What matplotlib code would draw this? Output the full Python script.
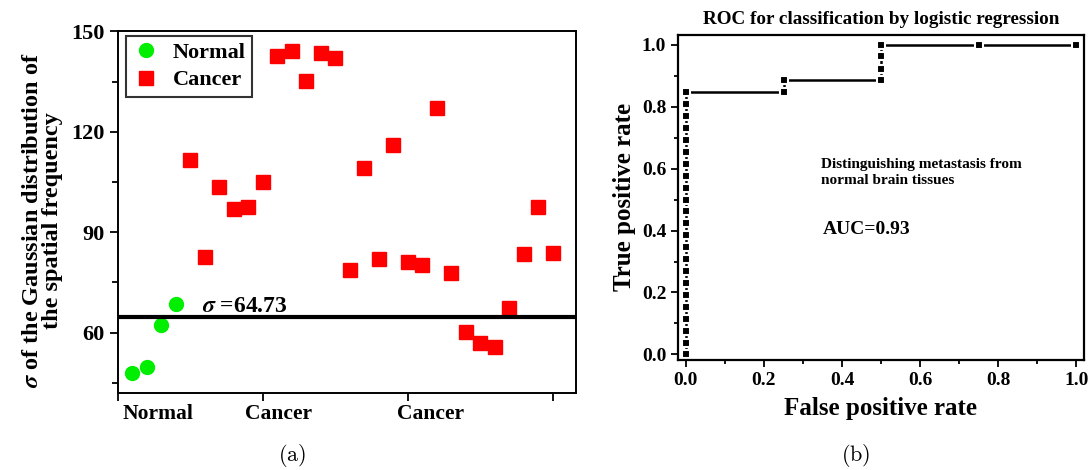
import matplotlib
matplotlib.use("Agg")
import matplotlib.pyplot as plt
import numpy as np

plt.rcParams['font.family'] = ['Liberation Serif', 'DejaVu Serif']
plt.rcParams['font.weight'] = 'bold'
plt.rcParams['axes.labelweight'] = 'bold'
plt.rcParams['mathtext.fontset'] = 'stix'

# ---- data, panel (a) ----
normal_sigma = [48.0, 49.7, 62.4, 68.7]
cancer_sigma = [111.5, 82.5, 103.6, 97.0, 97.6, 104.9, 142.7, 144.3, 135.1,
                143.5, 142.1, 78.6, 109.2, 82.1, 116.2, 81.0, 80.1, 127.1,
                77.9, 60.1, 56.8, 55.8, 67.4, 83.5, 97.6, 83.8]
threshold = 64.73
yticks_a = [60, 90, 120, 150]
xlabels_a = ['Normal', 'Cancer', 'Cancer']

# ---- data, panel (b) ----
fpr = [0.0] * 23 + [0.25, 0.25, 0.5, 0.5, 0.5, 0.5, 0.75, 1.0]
tpr = [0.0, 0.038, 0.077, 0.115, 0.154, 0.192, 0.231, 0.269, 0.308, 0.346,
       0.385, 0.423, 0.462, 0.500, 0.538, 0.577, 0.615, 0.654, 0.692, 0.731,
       0.769, 0.808, 0.846,
       0.846, 0.885, 0.885, 0.923, 0.962, 1.0, 1.0, 1.0]
auc = 0.93

fig = plt.figure(figsize=(10.91, 4.70), dpi=100)
ax1 = fig.add_axes([0.108, 0.164, 0.420, 0.769])
ax2 = fig.add_axes([0.6215, 0.234, 0.372, 0.692])

# panel (a)
xn = np.arange(1, len(normal_sigma) + 1)
xc = np.arange(len(normal_sigma) + 1, len(normal_sigma) + len(cancer_sigma) + 1)
ax1.plot(xn, normal_sigma, 'o', color='#00ee00', markersize=10, label='Normal')
ax1.plot(xc, cancer_sigma, 's', color='#ff0000', markersize=9.5, label='Cancer')
ax1.axhline(threshold, color='k', lw=3)
ax1.text(5.8, threshold + 1.4, r'$\sigma$ =64.73', fontsize=17, fontweight='bold')

ax1.set_xlim(0, 31.6)
ax1.set_ylim(42, 150)
ax1.set_yticks(yticks_a)
ax1.set_yticks([45, 75, 105, 135], minor=True)
ax1.set_xticks([0, 10, 20, 30])
ax1.set_xticklabels([])
ax1.set_xticks([2.8, 11.1, 21.6], minor=True)
ax1.set_xticklabels(xlabels_a, minor=True)
ax1.tick_params(axis='x', which='minor', length=0, pad=8, labelsize=15.5)
ax1.tick_params(axis='x', which='major', length=6, width=1.3)
ax1.tick_params(axis='y', which='major', length=6, width=1.3, labelsize=16)
ax1.tick_params(axis='y', which='minor', length=4, width=1.3)
for s in ax1.spines.values():
    s.set_linewidth(1.4)
ax1.set_ylabel(r'$\sigma$ of the Gaussian distribution of' + '\nthe spatial frequency',
               fontsize=17.5, linespacing=0.92)
ax1.yaxis.set_label_coords(-0.12, 0.478)
leg = ax1.legend(loc='upper left', fontsize=16, frameon=True, fancybox=False,
                 edgecolor='k', borderpad=0.3, handlelength=1.2, handletextpad=0.6,
                 labelspacing=0.3, borderaxespad=0,
                 bbox_to_anchor=(0.0175, 0.9875))
leg.get_frame().set_linewidth(1.5)

# panel (b)
ax2.plot(fpr, tpr, '-', color='k', lw=1.8, marker='s', markersize=6.4,
         markerfacecolor='k', markeredgecolor='white', markeredgewidth=1.5)
ax2.set_xlim(-0.02, 1.019)
ax2.set_ylim(-0.018, 1.032)
ax2.set_xticks(np.linspace(0, 1, 6))
ax2.set_xticks(np.linspace(0.1, 0.9, 5), minor=True)
ax2.set_yticks(np.linspace(0, 1, 6))
ax2.set_yticks(np.linspace(0.1, 0.9, 5), minor=True)
ax2.xaxis.set_major_formatter(matplotlib.ticker.FormatStrFormatter('%.1f'))
ax2.yaxis.set_major_formatter(matplotlib.ticker.FormatStrFormatter('%.1f'))
ax2.tick_params(which='major', length=5, width=1.3, labelsize=14)
ax2.tick_params(which='minor', length=3, width=1.3)
for s in ax2.spines.values():
    s.set_linewidth(1.6)
ax2.set_xlabel('False positive rate', fontsize=18, labelpad=6)
ax2.set_ylabel('True positive rate', fontsize=18)
ax2.set_title('ROC for classification by logistic regression', fontsize=13.8,
              fontweight='bold', pad=8)
ax2.text(0.347, 0.635, 'Distinguishing metastasis from\nnormal brain tissues',
         fontsize=11, fontweight='bold', va='top', linespacing=1.3)
ax2.text(0.351, 0.404, 'AUC=%.2f' % auc, fontsize=14, fontweight='bold', va='center')

fig.text(0.268, 0.02, r'$\mathrm{(a)}$', fontsize=16, math_fontfamily='cm', ha='center')
fig.text(0.784, 0.02, r'$\mathrm{(b)}$', fontsize=16, math_fontfamily='cm', ha='center')

fig.savefig('out.png', dpi=100)
